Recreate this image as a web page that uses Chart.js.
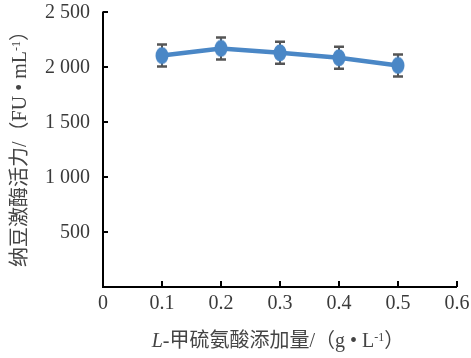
<!DOCTYPE html>
<html><head><meta charset="utf-8">
<script src="https://cdn.jsdelivr.net/npm/chart.js@4/dist/chart.umd.min.js"></script>
<style>html,body{margin:0;padding:0;background:#fff}#wrap{width:471px;height:358px}</style>
</head><body><div id="wrap"><canvas id="c" width="471" height="358"></canvas></div>
<script>
const categories = [0.1, 0.2, 0.3, 0.4, 0.5];
const activity = [2100, 2165, 2125, 2080, 2010];
const errors = [100, 100, 100, 100, 100];
const yTicks = [0, 500, 1000, 1500, 2000, 2500];
const yTickLabels = ['', '500', '1 000', '1 500', '2 000', '2 500'];
const xTicks = [0, 0.1, 0.2, 0.3, 0.4, 0.5, 0.6];
const xTickLabels = ['0', '0.1', '0.2', '0.3', '0.4', '0.5', '0.6'];

const BLUE = '#4a87c6';
const serif = '"Liberation Serif", "DejaVu Serif", serif';
const cjk = '"Noto Sans CJK SC", sans-serif';
const S = '20px ' + serif, I = 'italic 20px ' + serif, C = '20px ' + cjk, SUP = '12px ' + serif;

// title text runs: [text, font, vertical offset]
const yTitleRuns = [['纳豆激酶活力', C, 0], ['/', S, 0], ['（', C, 0], ['FU • mL', S, 0], ['-1', SUP, -6], ['）', C, 0]];
const xTitleRuns = [['L', I, 0], ['-', S, 0], ['甲硫氨酸添加量', C, 0], ['/', S, 0], ['（', C, 0], ['g • L', S, 0], ['-1', SUP, -6], ['）', C, 0]];

// ellipse marker
const mk = document.createElement('canvas');
mk.width = 14; mk.height = 18;
(function(){const g = mk.getContext('2d'); g.fillStyle = BLUE; g.beginPath(); g.ellipse(7, 9, 6.5, 8.5, 0, 0, Math.PI*2); g.fill();})();

function drawRuns(ctx, runs, cx, cy) {
  let total = 0;
  const ws = runs.map(r => { ctx.font = r[1]; const w = ctx.measureText(r[0]).width; total += w; return w; });
  let x = cx - total / 2;
  ctx.textAlign = 'left';
  ctx.textBaseline = 'alphabetic';
  runs.forEach((r, i) => { ctx.font = r[1]; ctx.fillText(r[0], x, cy + 7 + r[2]); x += ws[i]; });
}

const extras = {
  id: 'extras',
  beforeDatasetsDraw(chart) {
    const ctx = chart.ctx, x = chart.scales.x, y = chart.scales.y;
    ctx.save();
    ctx.strokeStyle = '#555';
    categories.forEach((c, i) => {
      const px = x.getPixelForValue(c);
      const top = y.getPixelForValue(activity[i] + errors[i]);
      const bot = y.getPixelForValue(activity[i] - errors[i]);
      ctx.lineWidth = 2;
      ctx.beginPath(); ctx.moveTo(px, top); ctx.lineTo(px, bot); ctx.stroke();
      ctx.lineWidth = 2.5;
      ctx.beginPath(); ctx.moveTo(px-5, top); ctx.lineTo(px+5, top); ctx.moveTo(px-5, bot); ctx.lineTo(px+5, bot); ctx.stroke();
    });
    ctx.restore();
  },
  afterDraw(chart) {
    const ctx = chart.ctx, x = chart.scales.x, y = chart.scales.y;
    const a = chart.chartArea;
    ctx.save();
    // axes
    ctx.strokeStyle = '#000'; ctx.lineWidth = 2;
    ctx.beginPath(); ctx.moveTo(a.left, a.top); ctx.lineTo(a.left, a.bottom); ctx.lineTo(a.right, a.bottom); ctx.stroke();
    yTicks.forEach(v => { const py = Math.round(y.getPixelForValue(v)); if (v === 0) return; ctx.beginPath(); ctx.moveTo(a.left, py); ctx.lineTo(a.left + 5, py); ctx.stroke(); });
    xTicks.forEach(v => { const px = Math.round(x.getPixelForValue(v)); if (v === 0) return; ctx.beginPath(); ctx.moveTo(px, a.bottom); ctx.lineTo(px, a.bottom - 6); ctx.stroke(); });
    // tick labels
    ctx.fillStyle = '#3a3a3a';
    ctx.font = S;
    ctx.textBaseline = 'middle';
    ctx.textAlign = 'right';
    yTicks.forEach((v, i) => ctx.fillText(yTickLabels[i], a.left - 13, y.getPixelForValue(v) + 1));
    ctx.textAlign = 'center';
    xTicks.forEach((v, i) => ctx.fillText(xTickLabels[i], x.getPixelForValue(v), a.bottom + 17));
    // titles
    ctx.fillStyle = '#444';
    ctx.save();
    ctx.translate(19, 144);
    ctx.rotate(-Math.PI/2);
    drawRuns(ctx, yTitleRuns, 0, 0);
    ctx.restore();
    drawRuns(ctx, xTitleRuns, 278, 340);
    ctx.restore();
  }
};

new Chart(document.getElementById('c'), {
  type: 'line',
  data: {
    datasets: [{
      data: categories.map((c, i) => ({x: c, y: activity[i]})),
      borderColor: BLUE, borderWidth: 4.5,
      pointStyle: mk, pointRadius: 7, pointHoverRadius: 7,
      backgroundColor: BLUE, tension: 0
    }]
  },
  options: {
    responsive: false, animation: false,
    layout: { padding: { top: 11, right: 14, left: 0, bottom: 0 } },
    plugins: { legend: { display: false }, tooltip: { enabled: false } },
    scales: {
      x: {
        type: 'linear', min: 0, max: 0.6,
        afterBuildTicks: s => { s.ticks = xTicks.map(v => ({value: v})); },
        afterFit: s => { s.height = 71; },
        grid: { display: false, drawTicks: false },
        border: { display: false },
        ticks: { display: false }
      },
      y: {
        min: 0, max: 2500,
        afterBuildTicks: s => { s.ticks = yTicks.map(v => ({value: v})); },
        afterFit: s => { s.width = 103; },
        grid: { display: false, drawTicks: false },
        border: { display: false },
        ticks: { display: false }
      }
    }
  },
  plugins: [extras]
});
</script>
</body></html>
